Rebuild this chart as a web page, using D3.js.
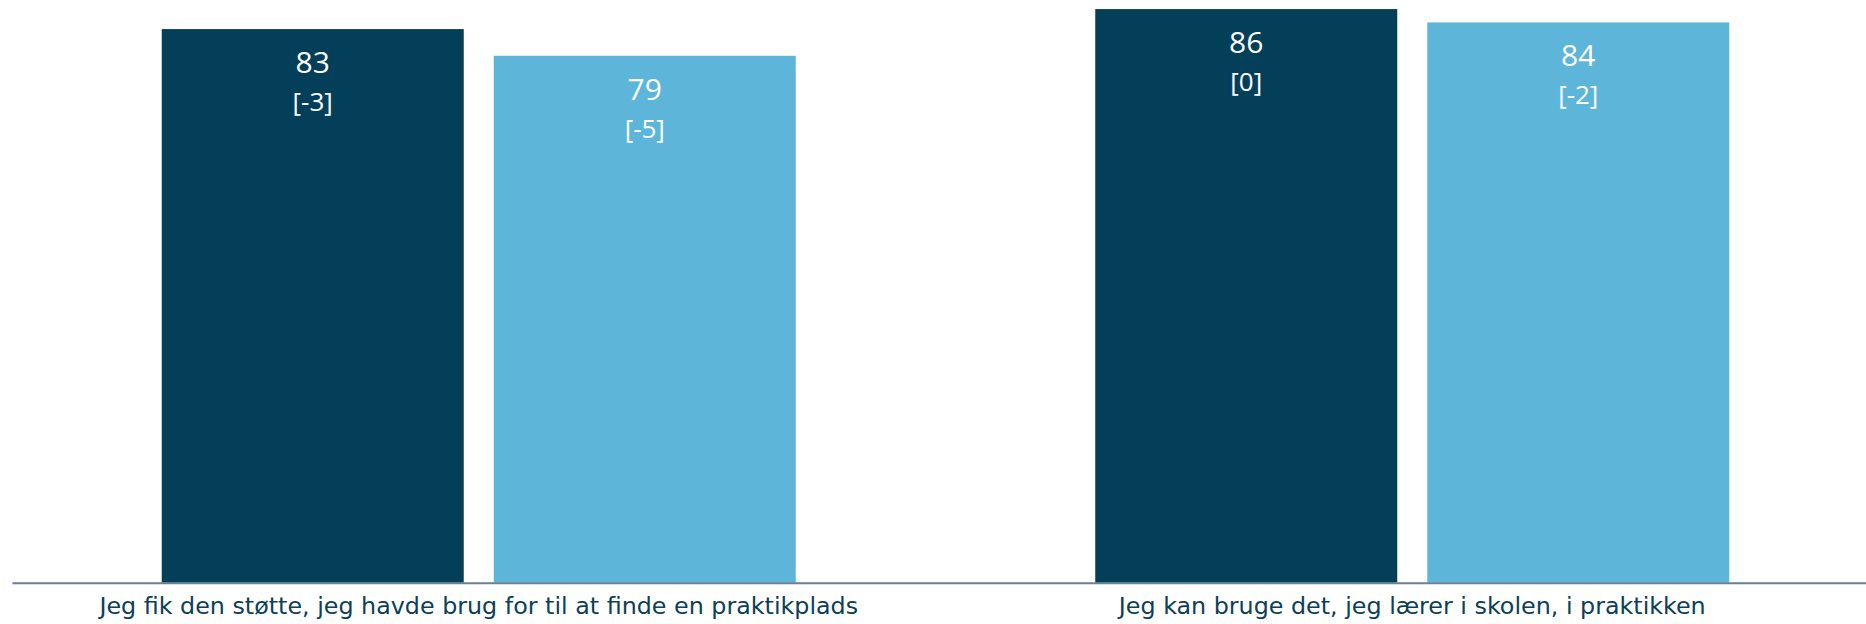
<!DOCTYPE html>
<html>
<head>
<meta charset="utf-8">
<script src="https://cdn.jsdelivr.net/npm/d3@7"></script>
<style>
  body { margin: 0; background: #fff; }
  svg { display: block; }
</style>
</head>
<body>
<svg></svg>
<script>
let categories = [
  'Jeg fik den støtte, jeg havde brug for til at finde en praktikplads',
  'Jeg kan bruge det, jeg lærer i skolen, i praktikken'
]
let seriesNames = ['serie1', 'serie2']
let serie1Values = [83, 86]
let serie2Values = [79, 84]
let serie1Changes = ['[-3]', '[0]']
let serie2Changes = ['[-5]', '[-2]']

let width = 1866
let height = 624
let baseY = 582.7
let colors = ['#033f59', '#5eb5da']

let svg = d3.select('svg')
  .attr('width', width)
  .attr('height', height)

let rows = []
categories.forEach((cat, i) => {
  rows.push({ cat: cat, series: seriesNames[0], value: serie1Values[i], change: serie1Changes[i] })
  rows.push({ cat: cat, series: seriesNames[1], value: serie2Values[i], change: serie2Changes[i] })
})

let xScale = d3.scaleBand()
  .domain(categories)
  .range([12, 1879])
  .padding(0)

let innerScale = d3.scaleBand()
  .domain(seriesNames)
  .range([0, xScale.bandwidth()])
  .paddingInner(0.0904)
  .paddingOuter(0.451)

let yScale = d3.scaleLinear()
  .domain([0, 100])
  .range([baseY, baseY - 667])

let colorScale = d3.scaleOrdinal()
  .domain(seriesNames)
  .range(colors)

let barX = (d) => xScale(d.cat) + innerScale(d.series)

svg.selectAll('rect.bar')
  .data(rows)
  .enter()
  .append('rect')
  .attr('class', 'bar')
  .attr('x', barX)
  .attr('width', innerScale.bandwidth())
  .attr('y', (d) => yScale(d.value))
  .attr('height', (d) => baseY - yScale(d.value))
  .attr('fill', (d) => colorScale(d.series))

// value labels inside the top of each bar
svg.selectAll('text.value')
  .data(rows)
  .enter()
  .append('text')
  .attr('class', 'value')
  .attr('x', (d) => barX(d) + innerScale.bandwidth() / 2)
  .attr('y', (d) => yScale(d.value) + 44)
  .attr('text-anchor', 'middle')
  .attr('fill', '#fff')
  .style('font-family', '"Open Sans", sans-serif')
  .style('font-size', '30px')
  .text((d) => d.value)

svg.selectAll('text.change')
  .data(rows)
  .enter()
  .append('text')
  .attr('class', 'change')
  .attr('x', (d) => barX(d) + innerScale.bandwidth() / 2)
  .attr('y', (d) => yScale(d.value) + 82)
  .attr('text-anchor', 'middle')
  .attr('fill', '#fff')
  .style('font-family', '"Open Sans", sans-serif')
  .style('font-size', '26px')
  .text((d) => d.change)

let xAxis = d3.axisBottom(xScale)
  .tickSize(0)
  .tickSizeOuter(0)
  .tickPadding(14)

let axisG = svg.append('g')
  .attr('id', 'x-axis')
  .attr('transform', 'translate(0, ' + baseY + ')')
  .call(xAxis)

axisG.select('.domain')
  .attr('stroke', '#6b7f95')
  .attr('stroke-width', 2)

axisG.selectAll('text')
  .attr('fill', '#0b4058')
  .style('font-family', '"DejaVu Sans", sans-serif')
  .style('font-size', '23.8px')
</script>
</body>
</html>
